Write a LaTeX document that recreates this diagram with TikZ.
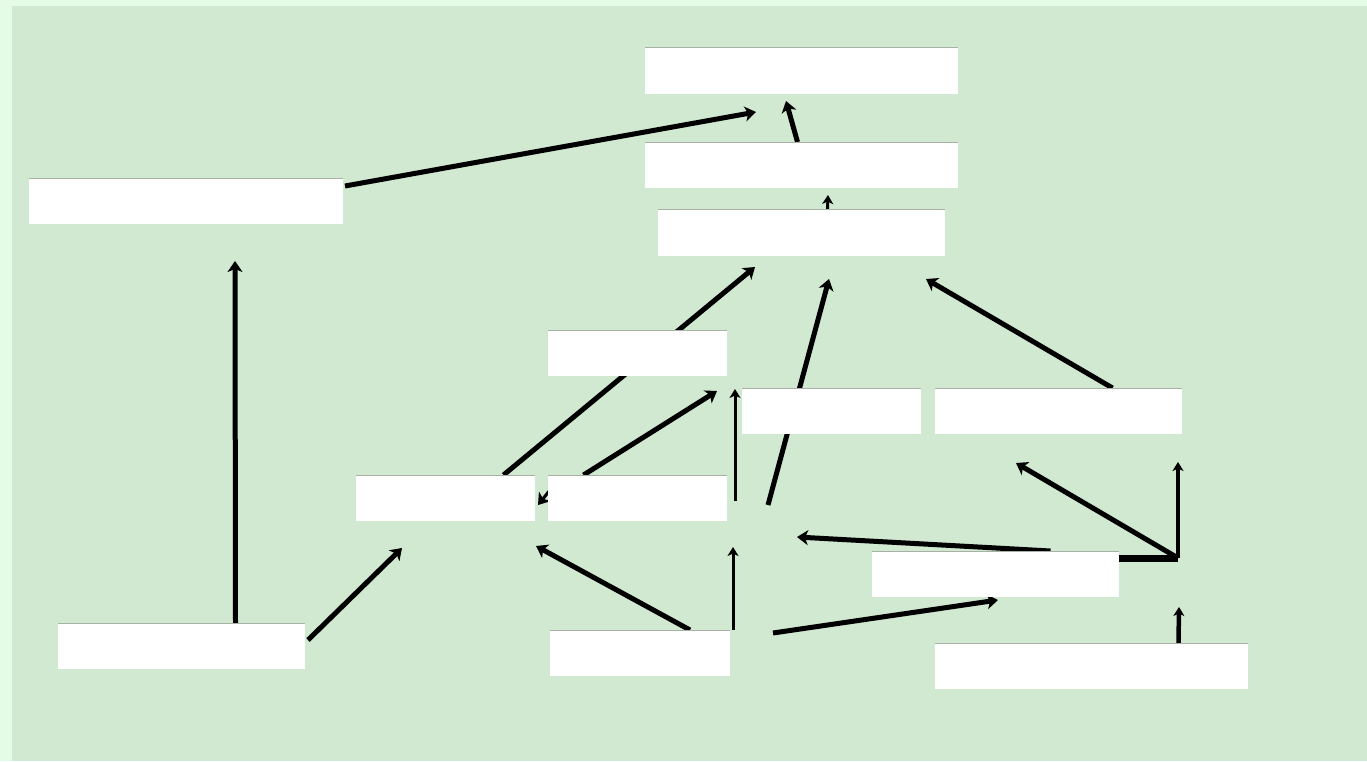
\documentclass[tikz,border=0pt]{standalone}
\usetikzlibrary{arrows.meta,backgrounds}
\definecolor{outerbg}{HTML}{E5FBE5}
\definecolor{innerbg}{HTML}{D1E8D1}
\definecolor{edgegray}{HTML}{A8B0A8}
\tikzset{
  box/.style={fill=white, draw=none, anchor=north west, inner sep=0pt, outer sep=0pt},
  conn/.style={line width=5pt, -{Stealth[length=11pt,width=15pt,inset=3pt]}},
  thinconn/.style={line width=3pt, -{Stealth[length=9pt,width=11pt,inset=2.5pt]}},
  plain/.style={line width=7pt},
}
\newcommand{\wbox}[5]{% name, x, y, w, h
  \node[box, minimum width=#4pt, minimum height=#5pt] (#1) at (#2,#3) {};
  \draw[edgegray, line width=1pt] (#1.north west) -- (#1.north east);
}
\begin{document}
\begin{tikzpicture}[x=1pt,y=-1pt]
  \useasboundingbox (0,0) rectangle (1367,761);

  % boxes
  \wbox{B1}{645}{47}{313}{47}
  \wbox{B2}{645}{142}{313}{46}
  \wbox{B3}{658}{209}{287}{47}
  \wbox{L1}{29}{178}{314}{46}
  \wbox{M1}{548}{330}{179}{46}
  \wbox{M2}{742}{388}{179}{46}
  \wbox{M3}{935}{388}{247}{46}
  \wbox{N1}{356}{475}{179}{46}
  \wbox{N2}{548}{475}{179}{46}
  \wbox{R1}{872}{551}{247}{46}
  \wbox{BL}{58}{623}{247}{46}
  \wbox{BM}{550}{630}{180}{46}
  \wbox{BR}{935}{643}{313}{46}

  % free ends
  \coordinate (pB1a) at (756,112);
  \coordinate (pB1b) at (786,101);
  \coordinate (pB2) at (828,195);
  \coordinate (pB3a) at (755,267);
  \coordinate (pB3b) at (829,279);
  \coordinate (pB3c) at (926,279);
  \coordinate (pM1) at (717,391);
  \coordinate (pM1b) at (735,389);
  \coordinate (sN2) at (735,501);
  \coordinate (sM2) at (768,505);
  \coordinate (pL1) at (235,261);
  \coordinate (pN1) at (402,548);
  \coordinate (pN1b) at (536,546);
  \coordinate (pN2) at (733,547);
  \coordinate (sBM) at (773,633);
  \coordinate (pR1) at (998,600);
  \coordinate (pR1b) at (797,537);
  \coordinate (J) at (1178,558);
  \coordinate (pM3) at (1178,462);
  \coordinate (pM3b) at (1016,463);
  \coordinate (pR1c) at (1179,607);
  \coordinate (pN1c) at (538,505);

  \begin{pgfonlayer}{background}
    \fill[outerbg] (0,0) rectangle (1367,761);
    \fill[innerbg] (12,6) rectangle (1367,761);
    \draw[conn] (L1.east) ++(2,-15) -- (pB1a);
    \draw[conn] (B2.north) ++(-4,0) -- (pB1b);
    \draw[thinconn] (B3.north) ++(26,1) -- (pB2);
    \draw[conn] (N1.north) ++(58,0) -- (pB3a);
    \draw[conn] (N2.north) ++(-54,0) -- (pM1);
    \draw[thinconn] (sN2) -- (pM1b);
    \draw[conn] (sM2) -- (pB3b);
    \draw[conn] (M3.north) ++(54,0) -- (pB3c);
    \draw[conn] (BL.north) ++(54,0) -- (pL1);
    \draw[conn] (BL.east) ++(3,-6) -- (pN1);
    \draw[conn] (BM.north) ++(50,0) -- (pN1b);
    \draw[thinconn] (BM.north) ++(93,0) -- (pN2);
    \draw[conn] (sBM) -- (pR1);
    \draw[conn] (R1.north) ++(55,0) -- (pR1b);
    \draw[plain] (R1.east) ++(0,-16) -- (J);
    \draw[thinconn, line width=4pt] (J) -- (pM3);
    \draw[conn] (J) -- (pM3b);
    \draw[thinconn, line width=4.5pt] (BR.north) ++(87,0) -- (pR1c);
    \draw[conn, line width=3pt] (N2.west) ++(2,-8) -- (pN1c);
  \end{pgfonlayer}
\end{tikzpicture}
\end{document}
